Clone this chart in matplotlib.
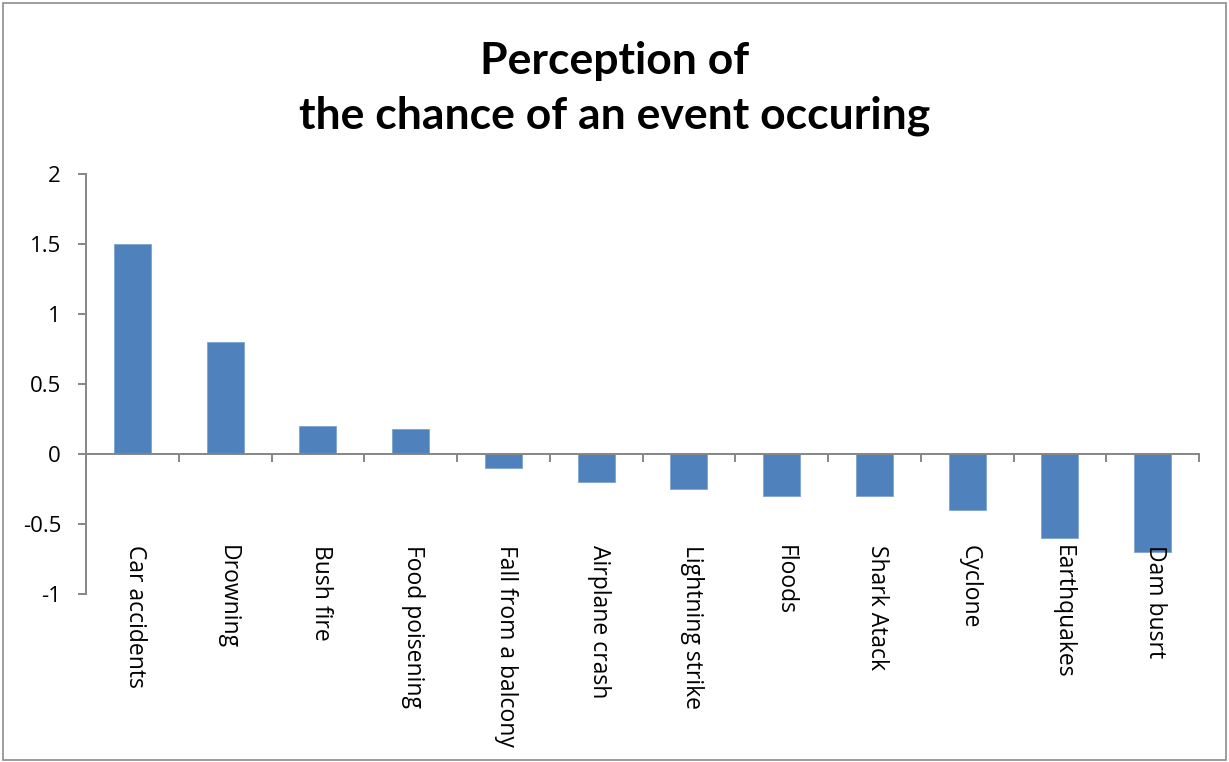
import matplotlib
matplotlib.use("Agg")
import matplotlib.pyplot as plt
from matplotlib.patches import Rectangle

categories = ["Car accidents", "Drowning", "Bush fire", "Food poisening",
              "Fall from a balcony", "Airplane crash", "Lightning strike",
              "Floods", "Shark Atack", "Cyclone", "Earthquakes", "Dam busrt"]
values = [1.5, 0.8, 0.2, 0.18, -0.1, -0.2, -0.25, -0.3, -0.3, -0.4, -0.6, -0.7]
yticks = [-1, -0.5, 0, 0.5, 1, 1.5, 2]
ytick_labels = ["-1", "-0.5", "0", "0.5", "1", "1.5", "2"]
title_lines = ["Perception of", "the chance of an event occuring"]

W, H = 1229, 762
fig = plt.figure(figsize=(W / 100, H / 100), dpi=100)
fig.patch.set_facecolor("white")

ax = fig.add_axes([86 / W, 1 - 594 / H, (1199 - 86) / W, (594 - 174) / H])
x = list(range(len(categories)))
ax.bar(x, values, width=0.4, color="#4F81BD", edgecolor="#7EA3D1", linewidth=0.6, zorder=2)

ax.set_xlim(-0.5, len(categories) - 0.5)
ax.set_ylim(-1, 2)
axis_grey = "#868686"
for s in ["top", "right"]:
    ax.spines[s].set_visible(False)
ax.spines["bottom"].set_position(("data", 0))
ax.spines["bottom"].set_color(axis_grey)
ax.spines["left"].set_color(axis_grey)
ax.spines["bottom"].set_linewidth(1.4)
ax.spines["left"].set_linewidth(1.4)
ax.spines["bottom"].set_zorder(3)

ax.set_yticks(yticks)
ax.set_yticklabels(ytick_labels, fontfamily="Open Sans", fontsize=16, color="black")
ax.tick_params(axis="y", direction="out", length=6, width=1.4, color=axis_grey, pad=12)
ax.set_xticks([i - 0.5 for i in range(len(categories) + 1)])
ax.set_xticklabels([])
ax.tick_params(axis="x", direction="out", length=6, width=1.4, color=axis_grey)

for i, c in enumerate(categories):
    ax.text(i + 0.03, -0.65, c, rotation=270, ha="center", va="top",
            fontfamily="Open Sans", fontsize=16.5, color="black")

fig.text(0.5, 1 - 41 / H, "\n".join(title_lines), ha="center", va="top",
         fontfamily="Lato", fontweight="bold", fontsize=32, linespacing=1.45)

fig.patches.append(Rectangle((3 / W, 2 / H), (W - 6) / W, (H - 5) / H,
                             transform=fig.transFigure, fill=False,
                             edgecolor="#8C8C8C", linewidth=1.2))

fig.savefig("out.png", dpi=100)
